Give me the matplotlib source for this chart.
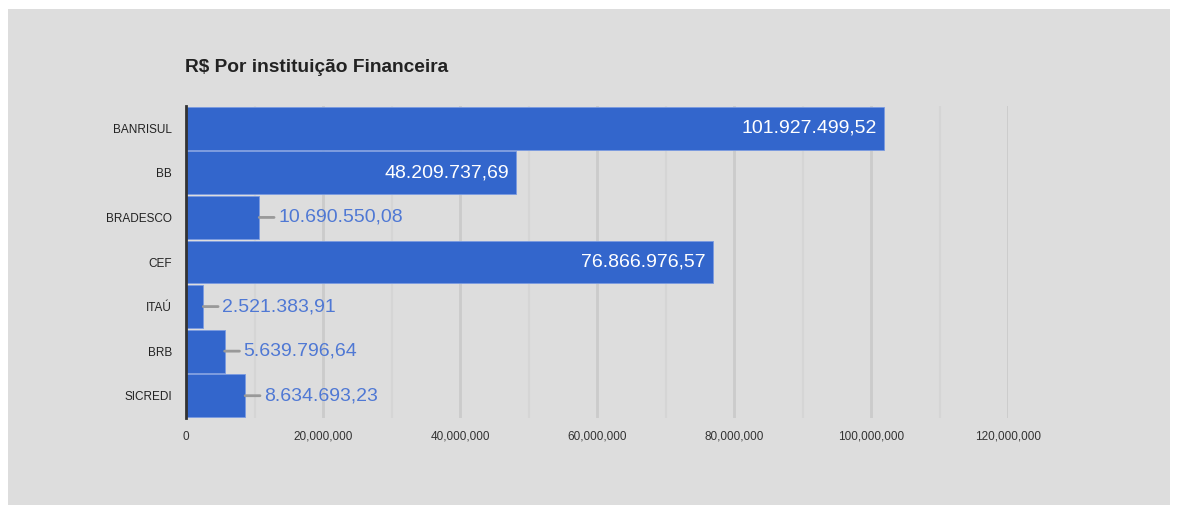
import numpy as np
import matplotlib.pyplot as plt
from matplotlib.patches import Rectangle
from matplotlib.ticker import FuncFormatter, MultipleLocator

bancos = ['BANRISUL', 'BB', 'BRADESCO', 'CEF', 'ITAÚ', 'BRB', 'SICREDI']
valores = [101927499.52, 48209737.69, 10690550.08, 76866976.57,
           2521383.91, 5639796.64, 8634693.23]
rotulos = ['101.927.499,52', '48.209.737,69', '10.690.550,08', '76.866.976,57',
           '2.521.383,91', '5.639.796,64', '8.634.693,23']
titulo = 'R$ Por instituição Financeira'

plt.rcParams['font.family'] = ['Liberation Sans', 'DejaVu Sans']

W, H = 1179, 508
fig = plt.figure(figsize=(W / 100, H / 100), dpi=100)
fig.patch.set_facecolor('white')
# gray panel behind everything
fig.add_artist(Rectangle((8 / W, 1 - 505 / H), 1162 / W, 496 / H,
                         transform=fig.transFigure, facecolor='#dddddd',
                         edgecolor='none', zorder=-10))

ax = fig.add_axes([186 / W, 1 - 418 / H, (1008 - 186) / W, (418 - 106) / H])
ax.set_facecolor('#dddddd')
ax.set_zorder(1)

y = np.arange(len(bancos))
ax.barh(y, valores, height=0.96, color='#3366cc', edgecolor='#7a9be0',
        linewidth=0.6, zorder=3)

ax.set_xlim(0, 120e6)
ax.set_ylim(len(bancos) - 0.5, -0.5)

# grid: every 10M, darker every 20M
for v in np.arange(10e6, 121e6, 10e6):
    major = int(round(v / 1e6)) % 20 == 0
    ax.axvline(v, color='#cbcbcb' if major else '#d5d5d5', lw=2 if major else 1.5, zorder=1)

ax.xaxis.set_major_locator(MultipleLocator(20e6))
ax.xaxis.set_major_formatter(FuncFormatter(lambda v, p: f'{int(v):,}'))
ax.set_yticks(y)
ax.set_yticklabels(bancos)
ax.tick_params(axis='x', length=0, pad=9, labelsize=8.5, labelcolor='#333333')
ax.tick_params(axis='y', length=0, pad=10, labelsize=8.5, labelcolor='#222222')

for s in ['top', 'right', 'bottom']:
    ax.spines[s].set_visible(False)
ax.spines['left'].set_color('#333333')
ax.spines['left'].set_linewidth(2)
ax.spines['left'].set_zorder(5)

for i, (v, r) in enumerate(zip(valores, rotulos)):
    if v > 30e6:
        ax.annotate(r, xy=(v, i), xytext=(-7, 0), textcoords='offset pixels',
                    ha='right', va='center', color='white', fontsize=14, zorder=6)
    else:
        ax.annotate(r, xy=(v, i), xytext=(19, 0), textcoords='offset pixels',
                    ha='left', va='center', color='#4f78d4', fontsize=14, zorder=6,
                    arrowprops=dict(arrowstyle='-', color='#999999', lw=2,
                                    shrinkA=1, shrinkB=0))

fig.text(185 / W, 1 - 67 / H, titulo, fontsize=13.8, fontweight='bold',
         color='#222222', ha='left', va='center')

fig.savefig('out.png', dpi=100)
